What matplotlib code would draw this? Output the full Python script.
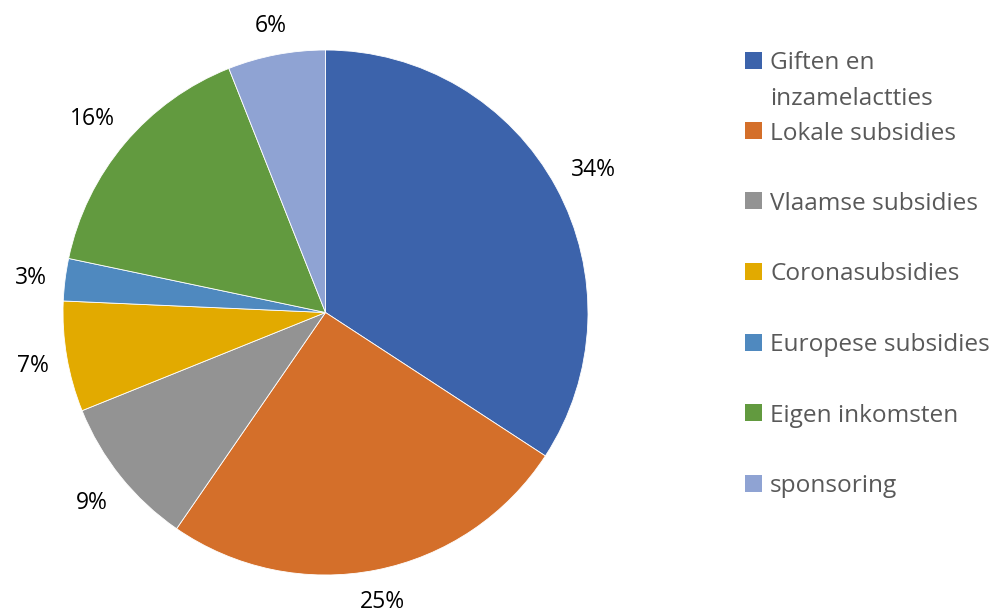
import numpy as np
import matplotlib
matplotlib.use("Agg")
import matplotlib.pyplot as plt
from matplotlib.patches import Rectangle

plt.rcParams['font.family'] = ['Open Sans', 'DejaVu Sans']

labels = ["Giften en\ninzamelactties", "Lokale subsidies", "Vlaamse subsidies",
          "Coronasubsidies", "Europese subsidies", "Eigen inkomsten", "sponsoring"]
values = [34.2, 25.4, 9.3, 6.8, 2.6, 15.7, 6.0]
colors = ["#3C63AB", "#D46F2A", "#939393", "#E2AA00", "#4F89BF", "#629A3F", "#8FA3D3"]

W, H = 1002, 615
fig = plt.figure(figsize=(W / 100, H / 100), dpi=100)

# pie centre (325, 312), radius 262 px
cx, cy, r = 325.5, 312.5, 262.5
ax = fig.add_axes([(cx - r) / W, (H - cy - r) / H, 2 * r / W, 2 * r / H])
wedges, texts, autotexts = ax.pie(
    values, colors=colors, startangle=90, counterclock=False,
    autopct='%1.0f%%', pctdistance=1.15,
    wedgeprops=dict(edgecolor='white', linewidth=0.6),
    textprops=dict(fontsize=16.5, color='black'))
ax.set_xlim(-1, 1)
ax.set_ylim(-1, 1)
ax.set_aspect('equal')
ax.axis('off')

# push every label out so its box keeps the same gap to the rim (like Excel)
renderer = fig.canvas.get_renderer()
gap = 17.0 / r
for w, t in zip(wedges, autotexts):
    t.set_ha('center')
    t.set_va('center_baseline')
    bb = t.get_window_extent(renderer)
    hw, hh = bb.width / 2 / r, bb.height / 2 / r
    th = np.deg2rad((w.theta1 + w.theta2) / 2)
    dx, dy = np.cos(th), np.sin(th)
    d = 1 + gap + hw * abs(dx) + hh * abs(dy)
    t.set_position((d * dx, d * dy))
    # keep the label inside the figure
    bb = t.get_window_extent(renderer)
    if bb.y0 < 1:
        t.set_position((d * dx, d * dy + (1 - bb.y0) / r))

# legend drawn by hand so the wrapped first entry keeps the even spacing
for i, (lab, col) in enumerate(zip(labels, colors)):
    yc = 60 + 70.5 * i
    fig.patches.append(Rectangle((745 / W, 1 - (yc + 8.5) / H), 17 / W, 17 / H,
                                 transform=fig.transFigure, facecolor=col,
                                 edgecolor='none'))
    for k, line in enumerate(lab.split('\n')):
        fig.text(770 / W, 1 - (yc + 36 * k) / H, line, fontsize=17.6,
                 color='#595959', va='center_baseline', ha='left')

fig.savefig("out.png", dpi=100)
